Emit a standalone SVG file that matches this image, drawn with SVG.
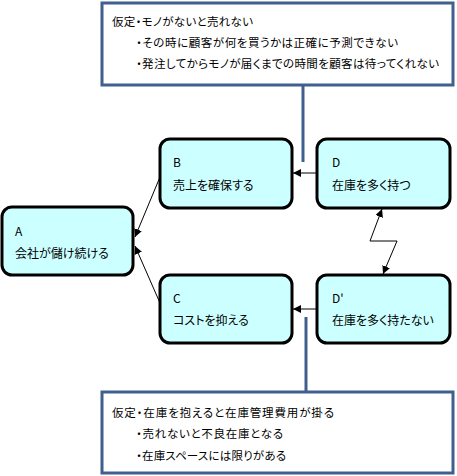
<svg xmlns="http://www.w3.org/2000/svg" width="457" height="476" viewBox="0 0 457 476">
<defs>
<style>
.node{fill:#ccffff;stroke:#000;stroke-width:3}
.note{fill:#fff;stroke:#3f5f8f;stroke-width:3}
.tie{stroke:#3f5f8f;stroke-width:3;fill:none}
.arr{stroke:#000;stroke-width:1;fill:none;marker-end:url(#ah)}
text{font-family:"Noto Sans CJK JP","Noto Sans",sans-serif;font-size:12px;fill:#000;font-feature-settings:"palt"}
.nt{font-size:11.5px}
</style>
<marker id="ah" viewBox="0 0 10 10" refX="10" refY="5" markerWidth="8" markerHeight="8" markerUnits="userSpaceOnUse" orient="auto-start-reverse">
<path d="M0,0L10,5L0,10z" fill="#000"/>
</marker>
</defs>
<g id="connectors">
<line class="tie" x1="303" y1="85" x2="303" y2="162"/>
<line class="tie" x1="306" y1="317" x2="306" y2="392"/>
<line class="arr" x1="316" y1="173" x2="293" y2="173"/>
<line class="arr" x1="316" y1="309" x2="293" y2="309"/>
<line class="arr" x1="160" y1="177" x2="135" y2="237"/>
<line class="arr" x1="160" y1="303" x2="135" y2="246"/>
<polyline class="arr" style="marker-start:url(#ah)" points="382,209 370,241 397,241 383,274"/>
</g>
<g id="note-top">
<rect class="note" x="102" y="3" width="351" height="82"/>
<text class="nt" x="112" y="26" textLength="141">仮定・モノがないと売れない</text>
<text class="nt" x="136" y="47" textLength="262">・その時に顧客が何を買うかは正確に予測できない</text>
<text class="nt" x="136" y="68" textLength="303">・発注してからモノが届くまでの時間を顧客は待ってくれない</text>
</g>
<g id="note-bottom">
<rect class="note" x="102" y="392" width="351" height="81"/>
<text class="nt" x="112" y="417" textLength="222">仮定・在庫を抱えると在庫管理費用が掛る</text>
<text class="nt" x="136" y="438" textLength="147">・売れないと不良在庫となる</text>
<text class="nt" x="136" y="460" textLength="150">・在庫スペースには限りがある</text>
</g>
<g id="node-A">
<rect class="node" x="2" y="207" width="131" height="68" rx="10"/>
<text x="15" y="236">A</text>
<text x="15" y="258">会社が儲け続ける</text>
</g>
<g id="node-B">
<rect class="node" x="160" y="139" width="132" height="69" rx="10"/>
<text x="173" y="167">B</text>
<text x="173" y="190">売上を確保する</text>
</g>
<g id="node-C">
<rect class="node" x="160" y="275" width="132" height="68" rx="10"/>
<text x="173" y="303">C</text>
<text x="173" y="325">コストを抑える</text>
</g>
<g id="node-D">
<rect class="node" x="317" y="139" width="133" height="69" rx="10"/>
<text x="332" y="167">D</text>
<text x="332" y="190">在庫を多く持つ</text>
</g>
<g id="node-D2">
<rect class="node" x="317" y="275" width="133" height="68" rx="10"/>
<text x="332" y="303">D'</text>
<text x="332" y="325">在庫を多く持たない</text>
</g>
</svg>
